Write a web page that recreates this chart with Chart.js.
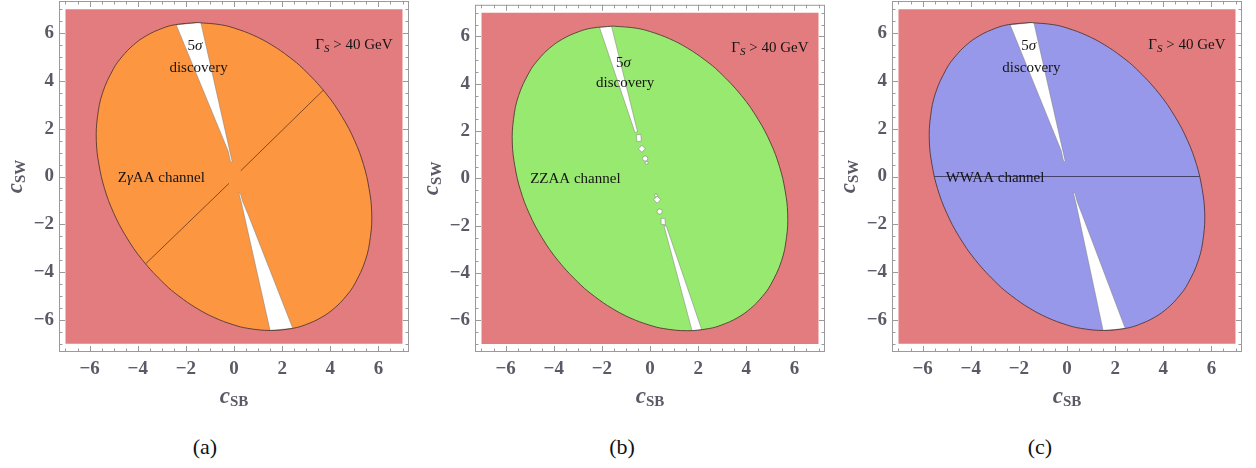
<!DOCTYPE html>
<html>
<head>
<meta charset="utf-8">
<script src="https://cdn.jsdelivr.net/npm/chart.js@4.4.1/dist/chart.umd.min.js"></script>
<style>
  html,body{margin:0;padding:0;background:#fff;}
  #wrap{position:relative;width:1256px;height:468px;overflow:hidden;background:#fff;}
  canvas{position:absolute;top:0;}
  .cap{position:absolute;top:434px;width:80px;text-align:center;font:22px "Liberation Serif","Times New Roman",serif;color:#111;line-height:26px;}
</style>
</head>
<body>
<div id="wrap">
  <canvas id="pa" width="416" height="420" style="left:0px"></canvas>
  <canvas id="pb" width="416" height="420" style="left:416px"></canvas>
  <canvas id="pc" width="416" height="420" style="left:833px"></canvas>
  <div class="cap" style="left:165px">(a)</div>
  <div class="cap" style="left:582px">(b)</div>
  <div class="cap" style="left:1000px">(c)</div>
</div>
<script>
// ---------- axis ticks ----------
const tickValues = [-6, -4, -2, 0, 2, 4, 6];
const tickLabels = ['\u22126', '\u22124', '\u22122', '0', '2', '4', '6'];
const minorTickValues = [-7, -6.5, -5.5, -5, -4.5, -3.5, -3, -2.5, -1.5, -1, -0.5,
                         0.5, 1, 1.5, 2.5, 3, 3.5, 4.5, 5, 5.5, 6.5, 7];

// ---------- excluded region (Gamma_S > 40 GeV) ----------
const regionX = [-7, 7, 7, -7, -7];
const regionY = [-7, -7, 7, 7, -7];

// ---------- allowed ellipse boundary ----------
const ellipseX = [-1.53, -0.57, 0.03, 0.82, 1.57, 2.29, 2.88, 3.80, 4.49, 5.01, 5.38, 5.61, 5.72, 5.67, 5.46, 5.01, 4.66, 4.18, 3.62, 2.97, 2.44,
                  1.53, 0.57, -0.03, -0.82, -1.57, -2.29, -2.88, -3.80, -4.49, -5.01, -5.38, -5.61, -5.72, -5.67, -5.46, -5.01, -4.66, -4.18, -3.62, -2.97, -2.44, -1.53];
const ellipseY = [6.44, 6.35, 6.20, 5.90, 5.50, 5.00, 4.50, 3.50, 2.50, 1.50, 0.50, -0.50, -1.50, -2.50, -3.50, -4.50, -5.00, -5.50, -5.90, -6.20, -6.35,
                  -6.44, -6.35, -6.20, -5.90, -5.50, -5.00, -4.50, -3.50, -2.50, -1.50, -0.50, 0.50, 1.50, 2.50, 3.50, 4.50, 5.00, 5.50, 5.90, 6.20, 6.35, 6.44];

// ---------- panel (a): Z gamma AA ----------
const aUpperGapX = [-2.40, -1.38, -0.08, -0.13, -0.18, -0.24, -2.40];
const aUpperGapY = [6.34, 6.45, 0.64, 0.58, 0.78, 1.06, 6.34];
const aLowerGapX = [0.20, 0.27, 0.36, 0.60, 2.44, 1.50, 0.32, 0.20];
const aLowerGapY = [-0.68, -0.72, -1.05, -1.62, -6.35, -6.44, -1.15, -0.68];
const aLine1X = [-3.66, -0.21];
const aLine1Y = [-3.64, -0.29];
const aLine2X = [0.28, 3.71];
const aLine2Y = [0.24, 3.61];

// ---------- panel (b): ZZAA ----------
const bUpperGapX = [-2.10, -1.60, -0.52, -0.62, -2.10];
const bUpperGapY = [6.39, 6.44, 1.98, 1.93, 6.39];
const bUpperBlobX = [-0.57, -0.38, -0.36, -0.54, -0.57];
const bUpperBlobY = [1.84, 1.86, 1.58, 1.55, 1.84];
const bLowerBlobX = [0.46, 0.62, 0.64, 0.48, 0.46];
const bLowerBlobY = [-1.68, -1.70, -1.96, -1.94, -1.68];
const bLowerGapX = [0.58, 0.68, 2.15, 1.75, 0.58];
const bLowerGapY = [-2.00, -2.02, -6.40, -6.45, -2.00];
const bDiamondX = [-0.34, 0.30];
const bDiamondY = [1.25, -0.90];
const bDotX = [-0.20, 0.40];
const bDotY = [0.84, -1.40];
const bSpeckX = [-0.14, 0.25];
const bSpeckY = [0.66, -0.72];

// ---------- panel (c): WWAA ----------
const cUpperGapX = [-2.36, -1.38, -0.08, -0.13, -0.18, -0.24, -2.36];
const cUpperGapY = [6.34, 6.45, 0.66, 0.60, 0.80, 1.08, 6.34];
const cLowerGapX = [0.26, 0.33, 0.42, 0.64, 2.42, 1.50, 0.38, 0.26];
const cLowerGapY = [-0.66, -0.70, -1.05, -1.62, -6.36, -6.44, -1.15, -0.66];
const cLineX = [-5.51, 5.51];
const cLineY = [0, 0];

// ---------- styling ----------
const SERIF = '"Liberation Serif", "Times New Roman", serif';
const PINK = '#e37c7e';
const AXIS_TEXT = '#5a5a66';
const FRAME = '#9a9a9a';
const pts = (xs, ys) => xs.map((x, i) => ({x: x, y: ys[i]}));

function shape(xs, ys, color, order, extra) {
  return Object.assign({data: pts(xs, ys), showLine: true, fill: 'shape', backgroundColor: color,
    borderWidth: 0, pointRadius: 0, tension: 0, order: order}, extra || {});
}
function gap(xs, ys) {
  return {data: pts(xs, ys), showLine: true, fill: 'shape', backgroundColor: '#ffffff',
    borderColor: 'rgba(120,120,120,0.6)', borderWidth: 0.8, pointRadius: 0, tension: 0, order: 8};
}
function seg(xs, ys, color) {
  return {data: pts(xs, ys), showLine: true, fill: false, borderColor: color, borderWidth: 1,
    pointRadius: 0, tension: 0, order: 6};
}
function marks(xs, ys, style, r) {
  return {data: pts(xs, ys), showLine: false, pointStyle: style, pointRadius: r,
    pointBackgroundColor: '#ffffff', pointBorderColor: 'rgba(120,120,120,0.7)', pointBorderWidth: 0.8, order: 7};
}

const N15 = '15px ' + SERIF, I15 = 'italic 15px ' + SERIF, I11 = 'italic 11px ' + SERIF;

function richWidth(ctx, parts) {
  let w = 0;
  for (const p of parts) { ctx.font = p.font; w += ctx.measureText(p.t).width; }
  return w;
}
function drawRich(ctx, parts, cx, base) {
  let x = cx - richWidth(ctx, parts) / 2;
  ctx.textBaseline = 'alphabetic';
  ctx.textAlign = 'left';
  for (const p of parts) {
    ctx.font = p.font;
    ctx.fillText(p.t, x, base + (p.dy || 0));
    x += ctx.measureText(p.t).width;
  }
}

const decorPlugin = {
  id: 'decor',
  afterDatasetsDraw(chart, args, opts) {
    const {ctx, chartArea: a, scales: {x, y}} = chart;
    ctx.save();
    // frame
    ctx.strokeStyle = FRAME;
    ctx.lineWidth = 1;
    ctx.strokeRect(a.left + 0.5, a.top + 0.5, a.right - a.left - 1, a.bottom - a.top - 1);
    // ticks drawn inward on all sides
    const drawTicks = (vals, len) => {
      ctx.beginPath();
      for (const v of vals) {
        const px = Math.round(x.getPixelForValue(v)) + 0.5;
        ctx.moveTo(px, a.bottom); ctx.lineTo(px, a.bottom - len);
        ctx.moveTo(px, a.top); ctx.lineTo(px, a.top + len);
        const py = Math.round(y.getPixelForValue(v)) + 0.5;
        ctx.moveTo(a.left, py); ctx.lineTo(a.left + len, py);
        ctx.moveTo(a.right, py); ctx.lineTo(a.right - len, py);
      }
      ctx.stroke();
    };
    drawTicks(tickValues, 6);
    drawTicks(minorTickValues, 3.5);
    // annotations
    ctx.fillStyle = '#151515';
    for (const n of opts.notes) {
      drawRich(ctx, n.parts, x.getPixelForValue(n.x), y.getPixelForValue(n.y) + 5);
    }
    // axis titles
    ctx.fillStyle = AXIS_TEXT;
    const xt = [{t: 'c', font: 'italic bold 23px ' + SERIF}, {t: 'SB', font: 'bold 15px ' + SERIF, dy: 3}];
    drawRich(ctx, xt, (a.left + a.right) / 2, 403);
    const yt = [{t: 'c', font: 'italic bold 23px ' + SERIF}, {t: 'SW', font: 'bold 15px ' + SERIF, dy: 3}];
    ctx.translate(22, (a.top + a.bottom) / 2);
    ctx.rotate(-Math.PI / 2);
    drawRich(ctx, yt, 0, 0);
    ctx.restore();
  }
};

function makePanel(id, fillColor, extraSets, channelParts, sigmaPos, discPos, chanX) {
  const notes = [
    {parts: [{t: '\u0393', font: N15}, {t: 'S', font: I11, dy: 3}, {t: ' > 40 GeV', font: N15}], x: 4.98, y: 5.54},
    {parts: [{t: '5', font: N15}, {t: '\u03c3', font: I15}], x: sigmaPos[0], y: sigmaPos[1]},
    {parts: [{t: 'discovery', font: N15}], x: discPos[0], y: discPos[1]},
    {parts: channelParts, x: chanX, y: 0}
  ];
  const datasets = [
    shape(regionX, regionY, PINK, 10),
    shape(ellipseX, ellipseY, fillColor, 9, {tension: 0.4}),
    ...extraSets,
    {data: pts(ellipseX, ellipseY), showLine: true, fill: false, borderColor: 'rgba(70,45,45,0.8)',
     borderWidth: 1, pointRadius: 0, tension: 0.4, order: 5}
  ];
  const fontTick = {family: SERIF, size: 19, weight: 'bold'};
  new Chart(document.getElementById(id), {
    type: 'scatter',
    data: {datasets: datasets},
    options: {
      responsive: false,
      animation: false,
      events: [],
      layout: {padding: {left: 0, right: 7, top: 1, bottom: 0}},
      plugins: {legend: {display: false}, tooltip: {enabled: false}, decor: {notes: notes}},
      scales: {
        x: {
          type: 'linear', min: -7.27, max: 7.27,
          grid: {display: false, drawTicks: false}, border: {display: false},
          afterBuildTicks: s => { s.ticks = tickValues.map(v => ({value: v})); },
          afterFit: s => { s.height = 68; s.paddingLeft = 0; s.paddingRight = 0; },
          ticks: {autoSkip: false, maxRotation: 0, padding: 6, color: AXIS_TEXT, font: fontTick,
                  callback: v => { const i = tickValues.indexOf(v); return i >= 0 ? tickLabels[i] : ''; }}
        },
        y: {
          type: 'linear', min: -7.34, max: 7.34,
          grid: {display: false, drawTicks: false}, border: {display: false},
          afterBuildTicks: s => { s.ticks = tickValues.map(v => ({value: v})); },
          afterFit: s => { s.width = 59; s.paddingTop = 0; s.paddingBottom = 0; },
          ticks: {autoSkip: false, padding: 5, color: AXIS_TEXT, font: fontTick,
                  callback: v => { const i = tickValues.indexOf(v); return i >= 0 ? tickLabels[i] : ''; }}
        }
      }
    },
    plugins: [decorPlugin]
  });
}

makePanel('pa', '#fc9641', [
  gap(aUpperGapX, aUpperGapY),
  gap(aLowerGapX, aLowerGapY),
  seg(aLine1X, aLine1Y, 'rgba(110,60,25,0.85)'),
  seg(aLine2X, aLine2Y, 'rgba(110,60,25,0.85)')
], [{t: 'Z', font: N15}, {t: '\u03b3', font: I15}, {t: 'AA channel', font: N15}], [-1.62, 5.50], [-1.47, 4.60], -3.02);

makePanel('pb', '#98e96f', [
  gap(bUpperGapX, bUpperGapY),
  gap(bUpperBlobX, bUpperBlobY),
  gap(bLowerBlobX, bLowerBlobY),
  gap(bLowerGapX, bLowerGapY),
  marks(bDiamondX, bDiamondY, 'rectRot', 3.5),
  marks(bDotX, bDotY, 'circle', 2.6),
  marks(bSpeckX, bSpeckY, 'circle', 1.5)
], [{t: 'ZZAA channel', font: N15}], [-1.10, 4.91], [-1.03, 4.09], -3.10);

makePanel('pc', '#9898ea', [
  gap(cUpperGapX, cUpperGapY),
  gap(cLowerGapX, cLowerGapY),
  seg(cLineX, cLineY, 'rgba(50,50,85,0.85)')
], [{t: 'WWAA channel', font: N15}], [-1.59, 5.50], [-1.48, 4.60], -2.99);
</script>
</body>
</html>
